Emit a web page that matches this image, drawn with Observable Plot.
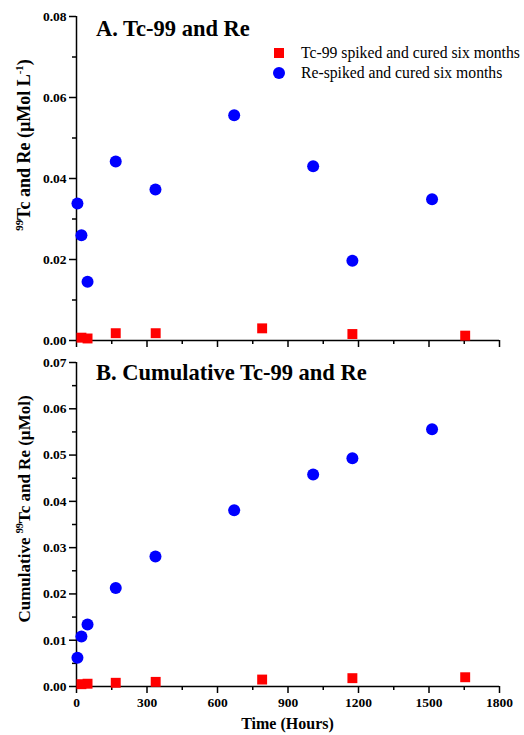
<!DOCTYPE html>
<html>
<head>
<meta charset="utf-8">
<script src="https://cdn.jsdelivr.net/npm/d3@7"></script>
<script src="https://cdn.jsdelivr.net/npm/@observablehq/plot@0.6"></script>
<style>
  html, body { margin: 0; padding: 0; background: #fff; }
  #wrap { position: relative; width: 524px; height: 735px; font-family: "Liberation Serif", "Times New Roman", serif; }
  #wrap svg { position: absolute; left: 0; overflow: visible; font-family: "Liberation Serif", "Times New Roman", serif !important; font-weight: bold; }
  #wrap svg text { font-family: "Liberation Serif", "Times New Roman", serif !important; }
</style>
</head>
<body>
<div id="wrap"></div>
<script>
// ---- Data ----
const reTime = [4, 21, 47, 167, 336, 671, 1007, 1174, 1513];
const reConc = [0.0338, 0.026, 0.0145, 0.0442, 0.0373, 0.0556, 0.043, 0.0197, 0.0349];
const reCum  = [0.0062, 0.0108, 0.0134, 0.0213, 0.0281, 0.0381, 0.0458, 0.0493, 0.0556];
const tcTime = [21, 47, 167, 337, 790, 1174, 1654];
const tcConc = [0.0007, 0.0005, 0.0018, 0.0018, 0.003, 0.0016, 0.0012];
const tcCum  = [0.0005, 0.0006, 0.0008, 0.001, 0.0015, 0.0018, 0.002];

const xMajor = [0, 300, 600, 900, 1200, 1500, 1800];
const xMinor = [150, 450, 750, 1050, 1350, 1650];
const yMajorA = [0, 0.02, 0.04, 0.06, 0.08];
const yMinorA = [0.01, 0.03, 0.05, 0.07];
const yMajorB = [0, 0.01, 0.02, 0.03, 0.04, 0.05, 0.06, 0.07];
const yMinorB = [0.005, 0.015, 0.025, 0.035, 0.045, 0.055, 0.065];

const titleA = "A. Tc-99 and Re";
const titleB = "B. Cumulative Tc-99 and Re";
const legendLabels = ["Tc-99 spiked and cured six months", "Re-spiked and cured six months"];
const xLabel = "Time (Hours)";

const RED = "#ff0000", BLUE = "#0000ff";
const FONT = "Liberation Serif, Times New Roman, serif";

const re1 = reTime.map((t, i) => ({t, v: reConc[i]}));
const tc1 = tcTime.map((t, i) => ({t, v: tcConc[i]}));
const re2 = reTime.map((t, i) => ({t, v: reCum[i]}));
const tc2 = tcTime.map((t, i) => ({t, v: tcCum[i]}));

function panel({height, marginTop, marginBottom, yDomain, yMajor, yMinor, re, tc, xLabels}) {
  return Plot.plot({
    width: 524, height, marginLeft: 76, marginRight: 25, marginTop, marginBottom,
    style: {fontFamily: FONT, fontSize: "13px", fontWeight: "bold", color: "#000", background: "transparent", overflow: "visible"},
    x: {domain: [0, 1800]},
    y: {domain: yDomain},
    marks: [
      Plot.axisY(yMajor, {tickSize: 7, tickPadding: 3, tickFormat: d3.format(".2f"), strokeWidth: 1.5, label: null, fontWeight: "bold", fontSize: 13.5}),
      Plot.axisY(yMinor, {tickSize: 4, text: null, strokeWidth: 1.5, label: null}),
      xLabels
        ? Plot.axisX(xMajor, {tickSize: 7, tickPadding: 4, tickFormat: d3.format("d"), strokeWidth: 1.5, label: null, fontWeight: "bold", fontSize: 13.5})
        : Plot.axisX(xMajor, {tickSize: 7, text: null, strokeWidth: 1.5, label: null}),
      Plot.axisX(xMinor, {tickSize: 4, text: null, strokeWidth: 1.5, label: null}),
      Plot.ruleX([0], {y1: yDomain[0], y2: yDomain[1], strokeWidth: 1.5}),
      Plot.ruleY([yDomain[0]], {x1: 0, x2: 1800, strokeWidth: 1.5}),
      Plot.dot(tc, {x: "t", y: "v", symbol: "square", r: 5.6, fill: RED, stroke: null}),
      Plot.dot(re, {x: "t", y: "v", symbol: "circle", r: 6, fill: BLUE, stroke: null})
    ]
  });
}

const wrap = document.getElementById("wrap");

const A = panel({height: 350, marginTop: 16, marginBottom: 10, yDomain: [0, 0.08], yMajor: yMajorA, yMinor: yMinorA, re: re1, tc: tc1, xLabels: false});
A.style.top = "0px";
wrap.appendChild(A);

const B = panel({height: 385, marginTop: 12, marginBottom: 49, yDomain: [0, 0.07], yMajor: yMajorB, yMinor: yMinorB, re: re2, tc: tc2, xLabels: true});
B.style.top = "350px";
wrap.appendChild(B);

// ---- Annotations ----
const sA = d3.select(A), sB = d3.select(B);

sA.append("text").attr("x", 96).attr("y", 36).attr("text-anchor", "start").attr("font-family", FONT).attr("font-size", 22.5).attr("font-weight", "bold").attr("fill", "#000").text(titleA);
sB.append("text").attr("x", 96).attr("y", 30).attr("text-anchor", "start").attr("font-family", FONT).attr("font-size", 22.5).attr("font-weight", "bold").attr("fill", "#000").text(titleB);

// legend
const lg = sA.append("g").attr("font-family", FONT).attr("font-size", 15.7).attr("font-weight", "normal").attr("fill", "#000").attr("text-anchor", "start");
lg.append("rect").attr("x", 274).attr("y", 48).attr("width", 10).attr("height", 10).attr("fill", RED);
lg.append("circle").attr("cx", 279).attr("cy", 73).attr("r", 6).attr("fill", BLUE);
lg.append("text").attr("x", 301).attr("y", 53).attr("dy", "0.35em").attr("font-weight", "normal").text(legendLabels[0]);
lg.append("text").attr("x", 301).attr("y", 73).attr("dy", "0.35em").attr("font-weight", "normal").text(legendLabels[1]);

// y-axis titles with superscripts
function yTitle(sel, cx, cy, parts, size) {
  const t = sel.append("text").attr("transform", `translate(${cx},${cy}) rotate(-90)`)
    .attr("text-anchor", "middle").attr("font-family", FONT).attr("font-size", size).attr("font-weight", "bold").attr("fill", "#000");
  let shifted = false;
  for (const [txt, sup] of parts) {
    const ts = t.append("tspan").text(txt);
    if (sup && !shifted) { ts.attr("dy", -7).attr("font-size", size * 0.6); shifted = true; }
    else if (!sup && shifted) { ts.attr("dy", 7); shifted = false; }
  }
}
yTitle(sA, 30, 145, [["99", true], ["Tc and Re (\u00B5Mol L", false], ["-1", true], [")", false]], 18);
yTitle(sB, 30, 509 - 350, [["Cumulative ", false], ["99", true], ["Tc and Re (\u00B5Mol)", false]], 17);

// x-axis title
sB.append("text").attr("x", 287.5).attr("y", 379).attr("text-anchor", "middle").attr("font-family", FONT).attr("font-size", 16).attr("font-weight", "bold").attr("fill", "#000").text(xLabel);
</script>
</body>
</html>
